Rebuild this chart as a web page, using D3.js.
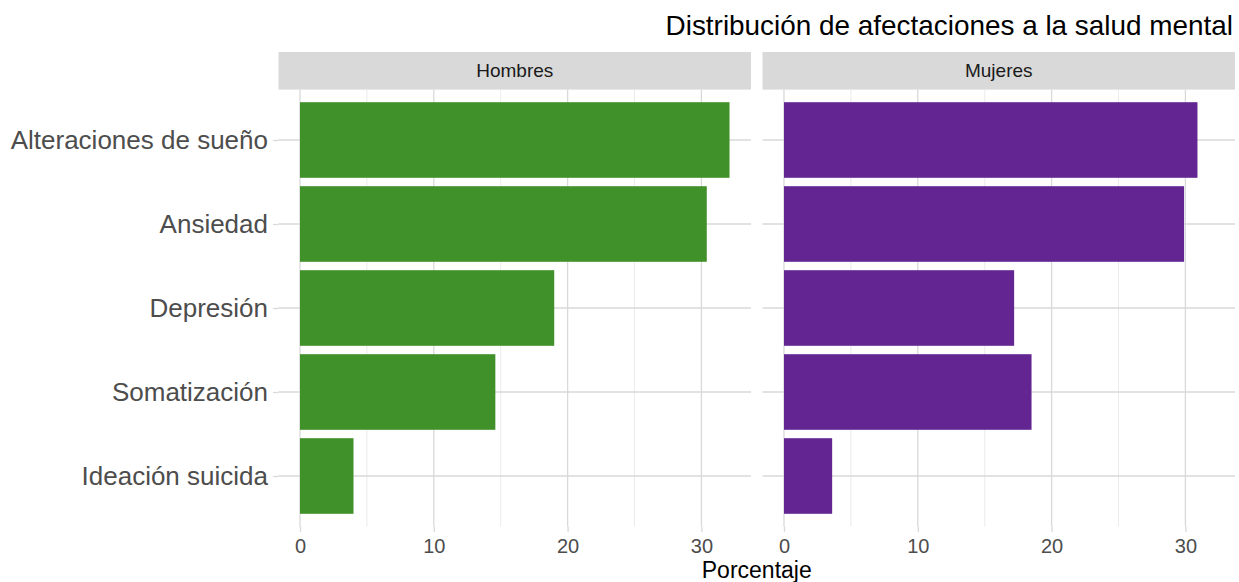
<!DOCTYPE html>
<html>
<head>
<meta charset="utf-8">
<script src="https://cdn.jsdelivr.net/npm/d3@7"></script>
<style>
  html, body { margin: 0; padding: 0; background: #fff; }
  svg { display: block; font-family: "Liberation Sans", Arial, Helvetica, sans-serif; }
</style>
</head>
<body>
<svg id="chart" width="1239" height="582"></svg>
<script>
const categories = ["Alteraciones de sueño", "Ansiedad", "Depresión", "Somatización", "Ideación suicida"];
const panels = ["Hombres", "Mujeres"];
const hombres = [32.1, 30.4, 19.0, 14.6, 4.0];
const mujeres = [30.9, 29.9, 17.2, 18.5, 3.6];
const colors = { Hombres: "#41912A", Mujeres: "#632591" };
const majorTicks = [0, 10, 20, 30];
const minorTicks = [5, 15, 25];
const title = "Distribución de afectaciones a la salud mental";
const xTitle = "Porcentaje";

const values = { Hombres: hombres, Mujeres: mujeres };

const svg = d3.select("#chart");

const panelTop = 89.6, panelBottom = 526.4;
const stripTop = 52, stripBottom = 89.6;
const panelX = { Hombres: [278.5, 751], Mujeres: [762.5, 1235] };

const maxVal = d3.max([...hombres, ...mujeres]);
const pad = maxVal * 0.05;
const domain = [0 - pad, maxVal + pad];

const y = d3.scalePoint().domain(categories).range([panelTop, panelBottom]).padding(0.6);
const barH = y.step() * 0.9;

const gridMajor = "#d9d9d9";
const gridMinor = "#e3e3e3";

panels.forEach(p => {
  const [x0, x1] = panelX[p];
  const x = d3.scaleLinear().domain(domain).range([x0, x1]);
  const g = svg.append("g");

  // strip
  g.append("rect").attr("x", x0).attr("y", stripTop).attr("width", x1 - x0).attr("height", stripBottom - stripTop)
    .attr("fill", "#d9d9d9");
  g.append("text").attr("x", (x0 + x1) / 2).attr("y", (stripTop + stripBottom) / 2).attr("dy", "0.35em")
    .attr("text-anchor", "middle").attr("font-size", 19).attr("fill", "#1a1a1a").text(p);

  // minor grid
  g.selectAll(".minor").data(minorTicks).join("line")
    .attr("x1", d => x(d)).attr("x2", d => x(d)).attr("y1", panelTop).attr("y2", panelBottom)
    .attr("stroke", gridMinor).attr("stroke-width", 0.7);
  // major grid vertical
  g.selectAll(".majorv").data(majorTicks).join("line")
    .attr("x1", d => x(d)).attr("x2", d => x(d)).attr("y1", panelTop).attr("y2", panelBottom)
    .attr("stroke", gridMajor).attr("stroke-width", 1.3);
  // major grid horizontal
  g.selectAll(".majorh").data(categories).join("line")
    .attr("x1", x0).attr("x2", x1).attr("y1", d => y(d)).attr("y2", d => y(d))
    .attr("stroke", gridMajor).attr("stroke-width", 1.3);

  // bars
  g.selectAll(".bar").data(categories.map((c, i) => ({ c, v: values[p][i] }))).join("rect")
    .attr("x", x(0)).attr("width", d => x(d.v) - x(0))
    .attr("y", d => y(d.c) - barH / 2).attr("height", barH)
    .attr("fill", colors[p]);

  // x axis
  const xAxis = d3.axisBottom(x).tickValues(majorTicks).tickSize(5.5).tickPadding(4);
  const ax = g.append("g").attr("transform", `translate(0,${panelBottom})`).call(xAxis);
  ax.select(".domain").remove();
  ax.selectAll(".tick line").attr("stroke", gridMajor).attr("stroke-width", 1.3);
  ax.selectAll(".tick text").attr("font-size", 20).attr("fill", "#4d4d4d").attr("font-family", null)
    .attr("dy", "0.71em").attr("y", 12);

  if (p === "Hombres") {
    const yAxis = d3.axisLeft(y).tickSize(5.5).tickPadding(5);
    const ay = g.append("g").attr("transform", `translate(${x0},0)`).call(yAxis);
    ay.select(".domain").remove();
    ay.selectAll(".tick line").attr("stroke", gridMajor).attr("stroke-width", 1.3);
    ay.selectAll(".tick text").attr("font-size", 26).attr("fill", "#4d4d4d").attr("font-family", null);
  }
});

// x title
svg.append("text").attr("x", (panelX.Hombres[0] + panelX.Mujeres[1]) / 2).attr("y", 577.5)
  .attr("text-anchor", "middle").attr("font-size", 23).attr("fill", "#000").text(xTitle);

// title
svg.append("text").attr("x", 1233).attr("y", 35)
  .attr("text-anchor", "end").attr("font-size", 27.9).attr("fill", "#000").text(title);
</script>
</body>
</html>
